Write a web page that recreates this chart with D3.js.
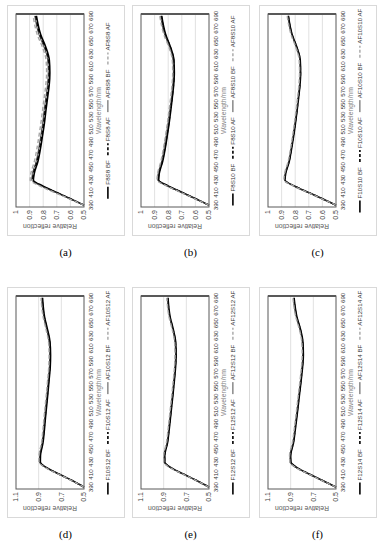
<!DOCTYPE html>
<html>
<head>
<meta charset="utf-8">
<script src="https://cdn.jsdelivr.net/npm/d3@7/dist/d3.min.js"></script>
<style>
body { margin: 0; background: #fff; }
text { font-family: "Liberation Sans", Arial, sans-serif; }
</style>
</head>
<body>
<script>
var wavelengths = [390, 400, 410, 420, 430, 440, 460, 480, 500, 520, 540, 560, 580, 600, 620, 640, 660, 690];
var xTickLabels = [390, 410, 430, 450, 470, 490, 510, 530, 550, 570, 590, 610, 630, 650, 670, 690];

var yTicksTop    = [0.5, 0.6, 0.7, 0.8, 0.9, 1];
var yTicksBottom = [0.5, 0.7, 0.9, 1.1];

var captions = ["(a)", "(b)", "(c)", "(d)", "(e)", "(f)"];

// (a)
var f8s8BF   = [.500, .600, .700, .800, .872, .866, .838, .820, .805, .791, .780, .768, .756, .751, .755, .780, .818, .850];
var f8s8AF   = [.500, .602, .704, .806, .878, .873, .845, .827, .812, .798, .787, .775, .763, .757, .761, .786, .824, .856];
var af8s8BF  = [.500, .604, .708, .812, .884, .879, .851, .833, .818, .804, .793, .781, .769, .763, .767, .793, .831, .862];
var af8s8AF  = [.500, .608, .716, .822, .896, .891, .864, .846, .831, .817, .805, .793, .781, .775, .779, .805, .843, .874];
// (b)
var f8s10BF  = [.500, .598, .697, .797, .870, .866, .840, .822, .807, .793, .781, .770, .760, .755, .758, .782, .818, .848];
var f8s10AF  = [.500, .599, .699, .800, .873, .869, .843, .825, .810, .796, .784, .772, .762, .757, .760, .784, .821, .851];
var af8s10BF = [.500, .601, .702, .804, .878, .874, .848, .830, .815, .801, .789, .777, .767, .762, .765, .789, .826, .856];
var af8s10AF = [.500, .603, .706, .808, .882, .878, .853, .835, .820, .806, .794, .782, .772, .767, .770, .794, .831, .862];
// (c)
var f10s10BF  = [.500, .600, .702, .803, .875, .870, .843, .826, .811, .798, .786, .775, .765, .760, .763, .787, .822, .850];
var f10s10AF  = [.500, .601, .703, .805, .877, .872, .845, .828, .813, .800, .788, .777, .767, .762, .765, .789, .824, .852];
var af10s10BF = [.500, .602, .705, .807, .879, .874, .847, .830, .815, .802, .790, .779, .769, .764, .767, .791, .826, .855];
var af10s10AF = [.500, .603, .707, .810, .883, .878, .851, .834, .819, .806, .794, .783, .773, .768, .771, .795, .830, .859];
// (d)
var f10s12BF  = [.500, .600, .712, .822, .885, .884, .862, .850, .840, .829, .818, .808, .798, .795, .800, .822, .848, .866];
var f10s12AF  = [.500, .602, .715, .826, .889, .888, .866, .854, .844, .833, .822, .812, .802, .799, .804, .826, .852, .870];
var af10s12BF = [.500, .603, .717, .829, .893, .892, .870, .858, .848, .837, .826, .816, .806, .803, .808, .830, .856, .874];
var af10s12AF = [.500, .605, .720, .833, .898, .897, .875, .863, .853, .842, .831, .821, .811, .808, .813, .835, .861, .879];
// (e)
var f12s12BF  = [.500, .605, .717, .828, .890, .890, .866, .852, .840, .828, .816, .805, .795, .790, .794, .815, .843, .862];
var f12s12AF  = [.500, .606, .719, .831, .893, .893, .869, .855, .843, .831, .819, .808, .798, .793, .797, .818, .846, .865];
var af12s12BF = [.500, .607, .721, .833, .896, .896, .872, .858, .846, .834, .822, .811, .801, .796, .800, .821, .849, .868];
var af12s12AF = [.500, .609, .724, .837, .900, .900, .876, .862, .850, .838, .826, .815, .805, .800, .804, .825, .853, .872];
// (f)
var f12s14BF  = [.500, .615, .728, .838, .898, .900, .875, .860, .846, .833, .820, .807, .795, .788, .792, .813, .845, .870];
var f12s14AF  = [.500, .616, .730, .840, .901, .903, .878, .863, .849, .836, .823, .810, .798, .791, .795, .816, .848, .873];
var af12s14BF = [.500, .617, .732, .843, .904, .906, .881, .866, .852, .839, .826, .813, .801, .794, .798, .819, .851, .876];
var af12s14AF = [.500, .619, .735, .846, .908, .910, .885, .870, .856, .843, .830, .817, .805, .798, .802, .823, .855, .880];

var panels = [
	{ names: ["F8S8 BF", "F8S8 AF", "AF8S8 BF", "AF8S8 AF"],         values: [f8s8BF, f8s8AF, af8s8BF, af8s8AF],           yMax: 1,   ticks: yTicksTop },
	{ names: ["F8S10 BF", "F8S10 AF", "AF8S10 BF", "AF8S10 AF"],     values: [f8s10BF, f8s10AF, af8s10BF, af8s10AF],       yMax: 1,   ticks: yTicksTop },
	{ names: ["F10S10 BF", "F10S10 AF", "AF10S10 BF", "AF10S10 AF"], values: [f10s10BF, f10s10AF, af10s10BF, af10s10AF],   yMax: 1,   ticks: yTicksTop },
	{ names: ["F10S12 BF", "F10S12 AF", "AF10S12 BF", "AF10S12 AF"], values: [f10s12BF, f10s12AF, af10s12BF, af10s12AF],   yMax: 1.1, ticks: yTicksBottom },
	{ names: ["F12S12 BF", "F12S12 AF", "AF12S12 BF", "AF12S12 AF"], values: [f12s12BF, f12s12AF, af12s12BF, af12s12AF],   yMax: 1.1, ticks: yTicksBottom },
	{ names: ["F12S14 BF", "F12S14 AF", "AF12S14 BF", "AF12S14 AF"], values: [f12s14BF, f12s14AF, af12s14BF, af12s14AF],   yMax: 1.1, ticks: yTicksBottom }
];

var lineStyles = [
	{ stroke: "#000",    width: 1.6, dash: null },
	{ stroke: "#000",    width: 1.6, dash: "4,2.5" },
	{ stroke: "#3a3a3a", width: 0.9, dash: null },
	{ stroke: "#a6a6a6", width: 1.4, dash: "4,2.5" }
];

var width = 381, height = 550;
var colX = [7, 132, 259];
var rowY = [5, 287];
var PW = 117, PH = 230;              // panel box on screen
// inside the un-rotated chart: u runs along wavelength, v along reflection
var plotU0 = 28, plotU1 = 221, plotV0 = 9, plotV1 = 77;

var svg = d3.select("body").append("svg").attr("width", width).attr("height", height);

panels.forEach(function(p, i) {
	var x0 = colX[i % 3], y0 = rowY[Math.floor(i / 3)];

	svg.append("rect").attr("x", x0 + 0.5).attr("y", y0 + 0.5)
		.attr("width", PW).attr("height", PH)
		.attr("fill", "#fff").attr("stroke", "#d9d9d9").attr("stroke-width", 1);

	svg.append("text").attr("x", x0 + PW / 2).attr("y", y0 + PH + 21)
		.attr("text-anchor", "middle")
		.style("font-family", "'Liberation Serif', 'DejaVu Serif', serif")
		.style("font-size", "11px").attr("fill", "#000")
		.text(captions[i]);

	// the whole chart is turned a quarter turn anticlockwise
	var g = svg.append("g").attr("transform", "translate(" + x0 + "," + (y0 + PH) + ") rotate(-90)");

	var x = d3.scaleLinear().domain([387, 693]).range([plotU0, plotU1]);
	var y = d3.scaleLinear().domain([0.5, p.yMax]).range([plotV1, plotV0]);

	// gridlines
	g.selectAll(".grid").data(p.ticks.slice(1, -1)).enter().append("line")
		.attr("x1", plotU0).attr("x2", plotU1)
		.attr("y1", function(d) { return y(d); }).attr("y2", function(d) { return y(d); })
		.attr("stroke", "#d9d9d9").attr("stroke-width", 0.8);

	// series
	var line = d3.line()
		.x(function(d, k) { return x(wavelengths[k]); })
		.y(function(d) { return y(d); })
		.curve(d3.curveMonotoneX);

	p.values.forEach(function(vals, s) {
		var st = lineStyles[s];
		g.append("path").datum(vals)
			.attr("d", line)
			.attr("fill", "none")
			.attr("stroke", st.stroke)
			.attr("stroke-width", st.width)
			.attr("stroke-dasharray", st.dash);
	});

	// plot border
	g.append("rect").attr("x", plotU0).attr("y", plotV0)
		.attr("width", plotU1 - plotU0).attr("height", plotV1 - plotV0)
		.attr("fill", "none").attr("stroke", "#595959").attr("stroke-width", 1);
	g.append("line").attr("x1", plotU1).attr("x2", plotU1).attr("y1", plotV0).attr("y2", plotV1)
		.attr("stroke", "#595959").attr("stroke-width", 2);

	// y tick labels
	g.selectAll(".yt").data(p.ticks).enter().append("text")
		.attr("x", plotU0 - 3).attr("y", function(d) { return y(d); })
		.attr("dy", "0.35em").attr("text-anchor", "end")
		.style("font-size", "7px").attr("fill", "#404040")
		.text(function(d) { return d3.format("~g")(d); });

	// y title
	g.append("text")
		.attr("transform", "translate(" + (plotU0 - 17) + "," + ((plotV0 + plotV1) / 2) + ") rotate(-90)")
		.attr("text-anchor", "middle")
		.style("font-size", "6.8px").attr("fill", "#595959")
		.text("Relative reflection");

	// x tick labels
	g.selectAll(".xt").data(xTickLabels).enter().append("text")
		.attr("x", function(d) { return x(d); }).attr("y", plotV1 + 8.5)
		.attr("text-anchor", "middle")
		.style("font-size", "6.2px").attr("fill", "#333")
		.text(function(d) { return d; });

	// x title
	g.append("text").attr("x", (plotU0 + plotU1) / 2).attr("y", plotV1 + 17)
		.attr("text-anchor", "middle")
		.style("font-size", "6.8px").attr("fill", "#808080")
		.text("Wavelength/nm");

	// legend
	var leg = g.append("g");
	var pos = 0, gap = 5;
	p.names.forEach(function(name, s) {
		var st = lineStyles[s];
		var item = leg.append("g").attr("transform", "translate(" + pos + ",0)");
		item.append("line").attr("x1", 0).attr("x2", 12).attr("y1", -2.1).attr("y2", -2.1)
			.attr("stroke", st.stroke).attr("stroke-width", st.width)
			.attr("stroke-dasharray", st.dash ? "3,2" : null);
		var t = item.append("text").attr("x", 14).attr("y", 0)
			.style("font-size", "6.2px").attr("fill", "#333").text(name);
		pos += 14 + t.node().getComputedTextLength() + gap;
	});
	pos -= gap;
	leg.attr("transform", "translate(" + ((plotU0 + plotU1) / 2 - pos / 2) + "," + (plotV1 + 26) + ")");
});
</script>
</body>
</html>
